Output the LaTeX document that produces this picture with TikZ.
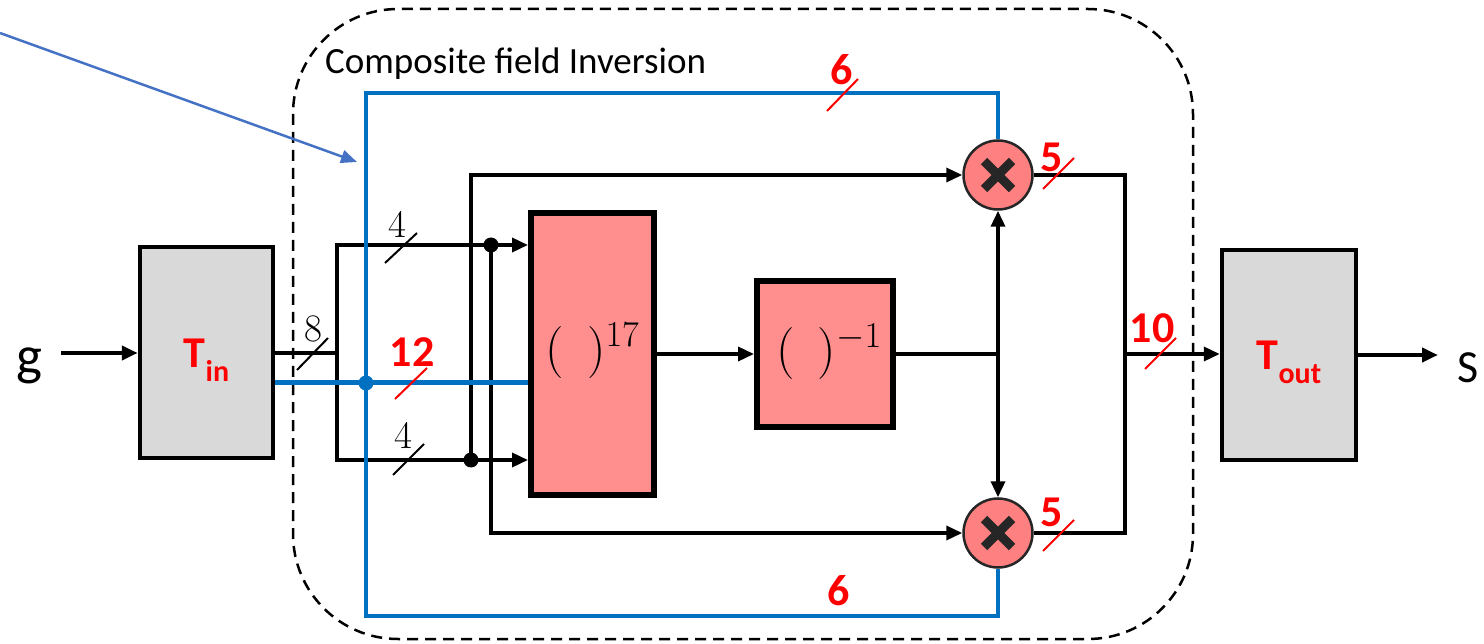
\RequirePackage{fix-cm}
\documentclass[tikz,border=0pt]{standalone}
\usepackage[no-math]{fontspec}
\setmainfont{Carlito}
\usepackage{amsmath}
\usepackage{tikz}
\usetikzlibrary{arrows.meta,positioning}

\definecolor{boxGray}{HTML}{D9D9D9}
\definecolor{powRed}{HTML}{FF8F8F}
\definecolor{mulRed}{HTML}{FF8080}
\definecolor{busBlue}{HTML}{0070C0}
\definecolor{noteBlue}{HTML}{4472C4}
\definecolor{widthRed}{HTML}{FF0000}

\begin{document}
\begin{tikzpicture}[x=1pt, y=-1pt,
    wire/.style={line width=3.5pt},
    sig/.style={wire, -{Triangle[length=16pt,width=14pt]}},
    bus/.style={busBlue, line width=3.5pt},
    tick/.style={line width=2pt},
    graybox/.style={draw, line width=4.5pt, fill=boxGray, inner sep=0pt, minimum width=133pt, minimum height=211pt},
    powbox/.style={draw, line width=6pt, fill=powRed, inner sep=0pt},
    mulnode/.style={circle, draw=black!85, line width=2.5pt, fill=mulRed, minimum size=69pt, inner sep=0pt},
    redlbl/.style={text=widthRed, font=\fontsize{44}{44}\selectfont\bfseries, inner sep=0pt},
    bitlbl/.style={font=\fontsize{39}{39}\selectfont, inner sep=0pt},
    powlbl/.style={font=\fontsize{52}{60}\selectfont, inner sep=0pt}]
    \useasboundingbox (0,0) rectangle (1484,644);

    % Inversion region
    \draw[dashed, dash pattern=on 11pt off 7pt, line width=2.5pt, rounded corners=105pt] (293,9) rectangle (1193,639);
    \node[anchor=base west, font=\fontsize{37}{37}\selectfont, inner sep=0pt] (cfiTitle) at (325,74) {Composite field Inversion};

    % Blocks
    \node[graybox] (tin) at (206.5,352.5) {};
    \node[graybox, minimum width=134pt, minimum height=210pt] (tout) at (1289,355) {};
    \node[powbox, minimum width=123pt, minimum height=282pt] (pow) at (592.5,354) {};
    \node[powbox, minimum width=136pt, minimum height=146pt] (inv) at (825,354) {};
    \node[mulnode] (mulA) at (998,175) {};
    \node[mulnode] (mulB) at (998,533) {};
    \foreach \m in {mulA,mulB}{
        \draw[line width=9pt, black!85] ([shift={(-14,-14)}]\m.center) -- ([shift={(14,14)}]\m.center);
        \draw[line width=9pt, black!85] ([shift={(-14,14)}]\m.center) -- ([shift={(14,-14)}]\m.center);
    }

    % Block labels
    \node[redlbl] (tinLbl) at ([yshift=-8pt]tin.center) {T\raisebox{-14pt}{\fontsize{30}{30}\selectfont in}};
    \node[redlbl] (toutLbl) at ([yshift=-7pt]tout.center) {T\raisebox{-14pt}{\fontsize{30}{30}\selectfont out}};
    \node[powlbl] (powLbl) at ([yshift=3pt]pow.center) {$(\;\,)^{17}$};
    \node[powlbl] (invLbl) at ([xshift=4pt,yshift=2pt]inv.center) {$(\;\,)^{-1}$};

    % Input and output
    \node[font=\fontsize{55}{55}\selectfont, anchor=base, inner sep=0pt] (gIn) at (29.5,374) {g};
    \node[font=\fontsize{46}{46}\selectfont, anchor=base, inner sep=0pt] (sOut) at (1468,382) {S};
    \coordinate (gTail) at (61,353);
    \coordinate (sHead) at (1438,355);
    \draw[sig, line width=4.5pt] (gTail) -- (tin.west |- gTail);
    \draw[sig, line width=4.5pt] (tout.east) -- (sHead);

    % Data path
    \coordinate (split) at (337,353);
    \coordinate (tapA) at (491,245);
    \coordinate (tapB) at (471,460);
    \draw[wire] (tin.east |- split) -- (split);
    \draw[sig] (split) |- (tapA) -- (tapA -| pow.west);
    \draw[sig] (split) |- (tapB) -- (tapB -| pow.west);
    \draw[sig] (tapB) |- (mulA.west);
    \draw[sig] (tapA) |- (mulB.west);
    \fill (tapA) circle (7.5pt);
    \fill (tapB) circle (7.5pt);

    \draw[sig] (pow.east) -- (inv.west);
    \coordinate (fork) at (998,354);
    \draw[wire] (inv.east) -- (fork);
    \draw[sig] (fork) -- (mulA.south);
    \draw[sig] (fork) -- (mulB.north);
    \coordinate (merge) at (1125,354);
    \draw[wire] (mulA.east) -| (merge);
    \draw[wire] (mulB.east) -| (merge);
    \draw[sig] (merge) -- (tout.west |- merge);

    % Blue bus
    \coordinate (busTap) at (366,383);
    \coordinate (busNW) at (366,93);
    \coordinate (busSW) at (366,616);
    \draw[bus, line width=5pt] (tin.east |- busTap) -- (pow.west |- busTap);
    \draw[bus] (mulA.north) |- (busNW) -- (busSW) -| (mulB.south);
    \fill[busBlue] (busTap) circle (7.5pt);

    % Pointer
    \coordinate (noteTail) at (0,33);
    \coordinate (noteHead) at (357,162);
    \draw[noteBlue, line width=2.5pt, -{Triangle[length=16pt,width=13pt]}] (noteTail) -- (noteHead);

    % Bus widths
    \draw[tick] (297,370) -- (328,338);
    \draw[tick] (385,263) -- (417,233);
    \draw[tick] (393,475) -- (424,444);
    \draw[tick, widthRed] (395,399) -- (427,368);
    \draw[tick, widthRed] (827,111) -- (858,79);
    \draw[tick, widthRed] (1043,189) -- (1074,158);
    \draw[tick, widthRed] (1043,551) -- (1074,520);
    \draw[tick, widthRed] (1145,369) -- (1176,338);
    \node[bitlbl] (wIn) at (313,329) {$8$};
    \node[bitlbl] (wTop) at (397,225) {$4$};
    \node[bitlbl] (wBot) at (403,436) {$4$};
    \node[redlbl] (wBus) at (412,352) {12};
    \node[redlbl] (wSixTop) at (842,70) {6};
    \node[redlbl] (wSixBot) at (839,591) {6};
    \node[redlbl] (wFiveTop) at (1052,157) {5};
    \node[redlbl] (wFiveBot) at (1052,512) {5};
    \node[redlbl] (wTen) at (1152,328) {10};
\end{tikzpicture}
\end{document}
